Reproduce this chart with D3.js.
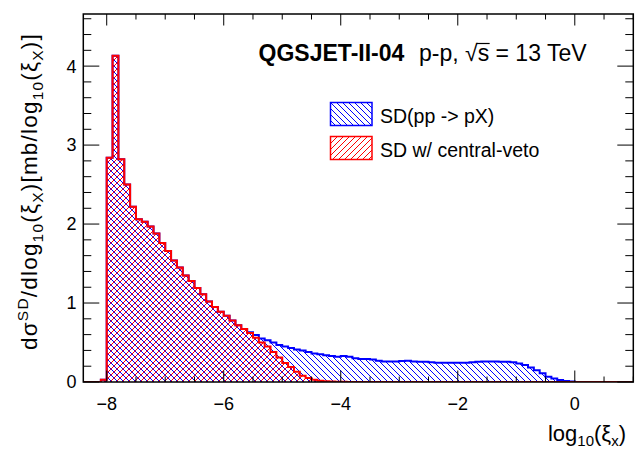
<!DOCTYPE html>
<html><head><meta charset="utf-8">
<script src="https://cdn.jsdelivr.net/npm/d3@7"></script>
<style>
body{margin:0;background:#fff}
svg{display:block}
text{font-family:"Liberation Sans",Arial,Helvetica,sans-serif;fill:#000}
</style>
</head><body>
<svg id="c" width="640" height="453"></svg>
<script>
// ---- data ----
const binLowEdge = -8.1;
const binWidth = 0.1;
// SD (pp -> pX), bins from -8.1 upward
const sdValues = [
  0.03, 2.84, 4.13, 2.82, 2.50, 2.22, 2.06, 2.03, 1.97, 1.88,
  1.76, 1.66, 1.54, 1.45, 1.35, 1.28, 1.19, 1.11, 1.02, 0.95,
  0.89, 0.84, 0.78, 0.72, 0.67, 0.63, 0.595, 0.55, 0.53, 0.50,
  0.47, 0.45, 0.43, 0.41, 0.40, 0.38, 0.36, 0.35, 0.34, 0.33,
  0.32, 0.33, 0.32, 0.30, 0.29, 0.29, 0.285, 0.27, 0.26, 0.26,
  0.26, 0.265, 0.27, 0.26, 0.255, 0.255, 0.25, 0.245, 0.245, 0.245,
  0.245, 0.245, 0.245, 0.25, 0.255, 0.26, 0.26, 0.26, 0.255, 0.255,
  0.25, 0.235, 0.215, 0.185, 0.15, 0.11, 0.067, 0.045, 0.025, 0.013,
  0.005, 0.0
];
// SD with central veto
const vetoValues = [
  0.03, 2.84, 4.13, 2.82, 2.50, 2.22, 2.06, 2.03, 1.97, 1.88,
  1.76, 1.66, 1.54, 1.45, 1.35, 1.28, 1.19, 1.11, 1.02, 0.95,
  0.89, 0.84, 0.78, 0.72, 0.67, 0.62, 0.56, 0.50, 0.45, 0.38,
  0.31, 0.24, 0.19, 0.13, 0.08, 0.05, 0.03, 0.015, 0.01, 0.006,
  0.004, 0.002, 0.0
];
const xMajorTicks = [-8, -6, -4, -2, 0];
const yMajorTicks = [0, 1, 2, 3, 4];
const legendLabels = ["SD(pp -> pX)", "SD w/ central-veto"];
const seriesColors = ["#0000ff", "#ff0000"];

// ---- layout ----
const svg = d3.select("#c");
const X0 = 83.3, X1 = 633.3, Y0 = 382, Y1 = 14;
const xDom = [-8.4, 1.0], yDom = [0, 4.66];
const x = d3.scaleLinear().domain(xDom).range([X0, X1]);
const y = d3.scaleLinear().domain(yDom).range([Y0, Y1]);

const defs = svg.append("defs");
function hatch(id, color, dir) {
  const p = defs.append("pattern").attr("id", id).attr("patternUnits", "userSpaceOnUse")
    .attr("width", 6).attr("height", 6);
  const d = dir === "/" ? "M-1,1 L1,-1 M0,6 L6,0 M5,7 L7,5" : "M-1,5 L1,7 M0,0 L6,6 M5,-1 L7,1";
  p.append("path").attr("d", d).attr("stroke", color).attr("stroke-width", 1.1).attr("fill", "none")
    .attr("shape-rendering", "crispEdges");
}
hatch("hBlue", seriesColors[0], "\\");
hatch("hRed", seriesColors[1], "/");
defs.append("clipPath").attr("id", "plot").append("rect")
  .attr("x", X0).attr("y", Y1).attr("width", X1 - X0).attr("height", Y0 - Y1);

function histLine(vals) {
  let d = `M${x(xDom[0])},${y(0)}L${x(binLowEdge)},${y(0)}`;
  vals.forEach((v, i) => {
    const l = binLowEdge + i * binWidth, r = l + binWidth;
    d += `L${x(l)},${y(v)}L${x(r)},${y(v)}`;
  });
  const end = binLowEdge + vals.length * binWidth;
  d += `L${x(end)},${y(0)}L${x(xDom[1])},${y(0)}`;
  return d;
}
const g = svg.append("g").attr("clip-path", "url(#plot)");
[[sdValues, "hBlue", seriesColors[0]], [vetoValues, "hRed", seriesColors[1]]].forEach(([vals, pat, col]) => {
  g.append("path").attr("d", histLine(vals) + "Z").attr("fill", `url(#${pat})`).attr("stroke", "none");
  g.append("path").attr("d", histLine(vals)).attr("fill", "none").attr("stroke", col)
    .attr("stroke-width", 2).attr("stroke-linejoin", "miter");
});

// frame
svg.append("rect").attr("x", X0).attr("y", Y1).attr("width", X1 - X0).attr("height", Y0 - Y1)
  .attr("fill", "none").attr("stroke", "#000").attr("stroke-width", 1.5);

// ticks
const ax = svg.append("g").attr("stroke", "#000").attr("stroke-width", 1);
const xMinor = d3.range(-8.0, 1.001, 0.5).filter(v => !xMajorTicks.some(m => Math.abs(m - v) < 1e-6));
xMajorTicks.forEach(v => {
  ax.append("line").attr("x1", x(v)).attr("x2", x(v)).attr("y1", Y0).attr("y2", Y0 - 11.5);
  ax.append("line").attr("x1", x(v)).attr("x2", x(v)).attr("y1", Y1).attr("y2", Y1 + 11.5);
});
xMinor.forEach(v => {
  ax.append("line").attr("x1", x(v)).attr("x2", x(v)).attr("y1", Y0).attr("y2", Y0 - 5.5);
  ax.append("line").attr("x1", x(v)).attr("x2", x(v)).attr("y1", Y1).attr("y2", Y1 + 5.5);
});
const yMinor = d3.range(0, 4.661, 0.2).filter(v => !yMajorTicks.some(m => Math.abs(m - v) < 1e-6));
yMajorTicks.forEach(v => {
  ax.append("line").attr("y1", y(v)).attr("y2", y(v)).attr("x1", X0).attr("x2", X0 + 16);
  ax.append("line").attr("y1", y(v)).attr("y2", y(v)).attr("x1", X1).attr("x2", X1 - 16);
});
yMinor.forEach(v => {
  ax.append("line").attr("y1", y(v)).attr("y2", y(v)).attr("x1", X0).attr("x2", X0 + 8);
  ax.append("line").attr("y1", y(v)).attr("y2", y(v)).attr("x1", X1).attr("x2", X1 - 8);
});

// tick labels
const fmt = v => (v < 0 ? "\u2212" + Math.abs(v) : String(v));
xMajorTicks.forEach(v => {
  svg.append("text").attr("x", x(v)).attr("y", 409.5).attr("text-anchor", "middle")
    .attr("font-size", 18).text(fmt(v));
});
yMajorTicks.forEach(v => {
  svg.append("text").attr("x", 76.5).attr("y", y(v) + 6.4).attr("text-anchor", "end")
    .attr("font-size", 18).text(fmt(v));
});

// x title
const xt = svg.append("text").attr("x", 626).attr("y", 441).attr("text-anchor", "end").attr("font-size", 22);
xt.append("tspan").text("log");
xt.append("tspan").attr("font-size", 15).attr("dy", 5).text("10");
xt.append("tspan").attr("dy", -5).text("(\u03be");
xt.append("tspan").attr("font-size", 15).attr("dy", 5).text("x");
xt.append("tspan").attr("dy", -5).text(")");

// y title
const yt = svg.append("text").attr("transform", "translate(37,33) rotate(-90)")
  .attr("text-anchor", "end").attr("font-size", 22.5);
const parts = [["d\u03c3", ""], ["SD", "sup"], ["/dlog", "back-sup"], ["10", "sub"], ["(\u03be", "back-sub"], ["X", "sub"],
  [")[mb/log", "back-sub"], ["10", "sub"], ["(\u03be", "back-sub"], ["X", "sub"], [")]", "back-sub"]];
parts.forEach(([t, k]) => {
  const s = yt.append("tspan").text(t);
  if (k === "sup") s.attr("font-size", 15.5).attr("dy", -9.5);
  else if (k === "sub") s.attr("font-size", 15.5).attr("dy", 5.5);
  else if (k === "back-sup") s.attr("dy", 9.5);
  else if (k === "back-sub") s.attr("dy", -5.5);
});
const yl = yt.node().getComputedTextLength();
const nChars = parts.map(p => p[0]).join("").length;
if (yl > 0 && yl < 354) yt.attr("letter-spacing", Math.min(1.2, (354 - yl) / nChars));

// header text
svg.append("text").attr("x", 258.6).attr("y", 60.5).attr("font-size", 23).attr("font-weight", "bold")
  .text("QGSJET-II-04");
const h = svg.append("text").attr("x", 419).attr("y", 60.5).attr("font-size", 23);
h.append("tspan").text("p-p, ");
h.append("tspan").text("\u221a");
h.append("tspan").text("s");
h.append("tspan").text(" = 13 TeV");
try {
  const n = h.node();
  const sx1 = n.getEndPositionOfChar(6).x;
  const rx = n.getEndPositionOfChar(5).x;
  svg.append("line").attr("x1", rx - 1).attr("x2", sx1 + 0.5).attr("y1", 60.5 - 17).attr("y2", 60.5 - 17)
    .attr("stroke", "#000").attr("stroke-width", 1.2);
} catch (e) {}

// legend
const legY = [102.5, 136.5];
[["hBlue", seriesColors[0]], ["hRed", seriesColors[1]]].forEach(([pat, col], i) => {
  svg.append("rect").attr("x", 330.5).attr("y", legY[i]).attr("width", 41.5).attr("height", 23)
    .attr("fill", `url(#${pat})`).attr("stroke", col).attr("stroke-width", 1.5);
  svg.append("text").attr("x", 380).attr("y", legY[i] + 20.5).attr("font-size", 19.5).text(legendLabels[i]);
});
</script>
</body></html>
